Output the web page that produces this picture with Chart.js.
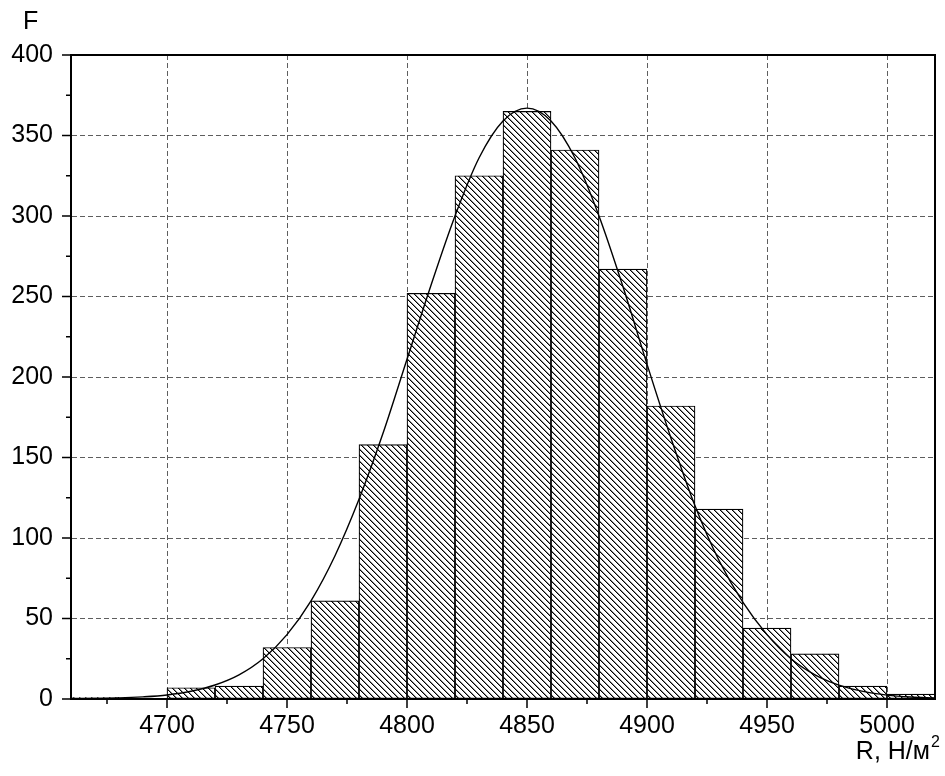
<!DOCTYPE html>
<html>
<head>
<meta charset="utf-8">
<script src="https://cdn.jsdelivr.net/npm/chart.js@4/dist/chart.umd.min.js"></script>
<style>
  html, body { margin: 0; padding: 0; background: #fff; }
  #wrap { width: 945px; height: 776px; position: relative; }
</style>
</head>
<body>
<div id="wrap"><canvas id="myChart"></canvas></div>
<script>
// histogram bins (left edge of each 20-wide bin) and frequencies
const binStarts = [4660, 4700, 4720, 4740, 4760, 4780, 4800, 4820, 4840, 4860, 4880, 4900, 4920, 4940, 4960, 4980, 5000];
const binCounts = [1, 7, 8, 32, 61, 158, 252, 325, 365, 341, 267, 182, 118, 44, 28, 8, 3];
const binWidth = 20;

// fitted curve, every 10 units
const curveR = [4660, 4670, 4680, 4690, 4700, 4710, 4720, 4730, 4740, 4750, 4760, 4770, 4780, 4790, 4800, 4810, 4820, 4830, 4840,
  4850, 4860, 4870, 4880, 4890, 4900, 4910, 4920, 4930, 4940, 4950, 4960, 4970, 4980, 4990, 5000, 5010, 5020];
const curveF = [0.1, 0.3, 0.6, 1.3, 2.5, 4.8, 8.7, 15, 25, 40, 61, 89, 124, 165, 211, 257, 300, 336, 359,
  367, 359, 336, 300, 256, 208, 162, 120, 86, 60, 40, 25, 15, 8.6, 4.7, 2.4, 1.2, 0.6];

// axis ticks
const xTickValues = [4700, 4750, 4800, 4850, 4900, 4950, 5000];
const xMinorTicks = [4675, 4725, 4775, 4825, 4875, 4925, 4975];
const yTickValues = [0, 50, 100, 150, 200, 250, 300, 350, 400];
const yMinorTicks = [25, 75, 125, 175, 225, 275, 325, 375];

const FONT = '"Liberation Sans", Arial, Helvetica, sans-serif';

function makeHatch() {
  const s = 6;
  const c = document.createElement('canvas');
  c.width = s;
  c.height = s;
  const g = c.getContext('2d');
  g.fillStyle = '#fff';
  g.fillRect(0, 0, s, s);
  for (let i = 0; i < s; i++) {
    g.fillStyle = '#000';
    g.fillRect(i, i, 1, 1);
    g.fillStyle = 'rgba(0,0,0,0.45)';
    g.fillRect((i + 1) % s, i, 1, 1);
  }
  return g.createPattern(c, 'repeat');
}

// frame, outward ticks and axis titles
const frameAndTicks = {
  id: 'frameAndTicks',
  afterDraw(chart) {
    const { ctx, chartArea: a, scales: { x, y } } = chart;
    ctx.save();
    ctx.strokeStyle = '#000';
    ctx.lineWidth = 1.5;
    ctx.beginPath();
    xTickValues.forEach(v => {
      const px = x.getPixelForValue(v);
      ctx.moveTo(px, a.bottom); ctx.lineTo(px, a.bottom + 9);
    });
    xMinorTicks.forEach(v => {
      const px = x.getPixelForValue(v);
      ctx.moveTo(px, a.bottom); ctx.lineTo(px, a.bottom + 5);
    });
    yTickValues.forEach(v => {
      const py = y.getPixelForValue(v);
      ctx.moveTo(a.left, py); ctx.lineTo(a.left - 9, py);
    });
    yMinorTicks.forEach(v => {
      const py = y.getPixelForValue(v);
      ctx.moveTo(a.left, py); ctx.lineTo(a.left - 5, py);
    });
    ctx.stroke();

    ctx.lineWidth = 2;
    ctx.strokeRect(a.left, a.top, a.right - a.left, a.bottom - a.top);

    ctx.fillStyle = '#000';
    ctx.font = '25px ' + FONT;
    ctx.textBaseline = 'alphabetic';
    ctx.textAlign = 'left';
    ctx.fillText('F', 23, 29);
    ctx.textAlign = 'right';
    ctx.fillText('R, Н/м', 930, 759);
    ctx.textAlign = 'left';
    ctx.font = '16px ' + FONT;
    ctx.fillText('2', 931, 747);
    ctx.restore();
  }
};

const config = {
  type: 'bar',
  data: {
    datasets: [
      {
        type: 'line',
        data: curveR.map((r, i) => ({ x: r, y: curveF[i] })),
        borderColor: '#000',
        borderWidth: 1.4,
        pointRadius: 0,
        fill: false,
        cubicInterpolationMode: 'monotone',
        order: 0,
      },
      {
        type: 'bar',
        data: binStarts.map((s, i) => ({ x: s + binWidth / 2, y: binCounts[i] })),
        backgroundColor: makeHatch(),
        borderColor: '#000',
        borderWidth: 1.2,
        borderSkipped: false,
        barPercentage: 1,
        categoryPercentage: 1,
        order: 1,
      },
    ],
  },
  options: {
    responsive: true,
    maintainAspectRatio: false,
    animation: false,
    layout: { padding: { left: 0, top: 55, right: 10, bottom: 0 } },
    plugins: { legend: { display: false }, tooltip: { enabled: false } },
    scales: {
      x: {
        type: 'linear',
        min: 4660,
        max: 5020,
        offset: false,
        z: 1,
        afterBuildTicks: s => { s.ticks = xTickValues.map(v => ({ value: v })); },
        afterFit: s => { s.height = 77; },
        grid: { color: '#5e5e5e', lineWidth: 1, drawTicks: false, offset: false },
        border: { color: '#000', width: 2, dash: [5, 3] },
        ticks: { color: '#000', font: { family: FONT, size: 25 }, padding: 12, maxRotation: 0, callback: v => String(v) },
      },
      y: {
        min: 0,
        max: 400,
        z: 1,
        afterBuildTicks: s => { s.ticks = yTickValues.map(v => ({ value: v })); },
        afterFit: s => { s.width = 71; },
        grid: { color: '#5e5e5e', lineWidth: 1, drawTicks: false },
        border: { color: '#000', width: 2, dash: [5, 3] },
        ticks: { color: '#000', font: { family: FONT, size: 25 }, padding: 18, callback: v => String(v) },
      },
    },
  },
  plugins: [frameAndTicks],
};

const myChart = new Chart(document.getElementById('myChart'), config);
</script>
</body>
</html>
